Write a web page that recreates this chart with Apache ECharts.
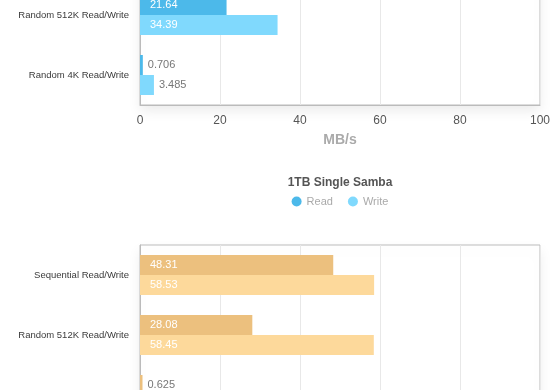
<!DOCTYPE html>
<html><head><meta charset="utf-8">
<script src="https://cdn.jsdelivr.net/npm/echarts@6/dist/echarts.min.js"></script>
<style>html,body{margin:0;padding:0;overflow:hidden;background:#fff;width:560px;height:390px}
#c{position:absolute;left:0;top:-100px;width:680px;height:720px}</style>
</head><body><div id="c"></div>
<script>
const categories = ['Sequential Read/Write', 'Random 512K Read/Write', 'Random 4K Read/Write'];
const topRead = [null, 21.64, 0.706];
const topWrite = [null, 34.39, 3.485];
const sambaRead = [48.31, 28.08, 0.625];
const sambaWrite = [58.53, 58.45, null];
const xTicks = [0, 20, 40, 60, 80, 100];
const chartTitle = '1TB Single Samba';
const axisName = 'MB/s';

const FONT = '"Liberation Sans", Helvetica, Arial, sans-serif';
const blueRead = '#4cb9ea', blueWrite = '#80d9fd';
const orangeRead = '#ecc07e', orangeWrite = '#fdd99b';

function mkData(vals) {
  return vals.map(v => v == null ? null : (v < 5 ? {
    value: v, label: {position: 'right', distance: 5, color: '#777'}
  } : v));
}
function mkX(gi) {
  return {
    type: 'value', gridIndex: gi, min: xTicks[0], max: xTicks[xTicks.length - 1], interval: xTicks[1] - xTicks[0],
    axisLine: {show: true, lineStyle: {color: '#bbb'}},
    axisTick: {show: false},
    splitLine: {lineStyle: {color: '#e8e8e8'}},
    axisLabel: {color: '#555', fontSize: 12, margin: 10, fontFamily: FONT},
    name: axisName, nameLocation: 'middle', nameGap: 28,
    nameTextStyle: {color: '#aaa', fontSize: 14, fontWeight: 'bold', fontFamily: FONT}
  };
}
function mkY(gi) {
  return {
    type: 'category', gridIndex: gi, inverse: true, data: categories,
    axisLine: {show: true, lineStyle: {color: '#bbb'}},
    axisTick: {show: false},
    axisLabel: {color: '#3a3a3a', fontSize: 9.5, margin: 11, fontFamily: FONT}
  };
}
function mkSeries(name, vals, color, gi) {
  return {
    type: 'bar', name: name, xAxisIndex: gi, yAxisIndex: gi,
    data: mkData(vals), barWidth: 20, barGap: '0%',
    itemStyle: {color: color},
    label: {show: true, position: 'insideLeft', distance: 10, color: '#fff', fontSize: 11, fontFamily: FONT},
    silent: true
  };
}
const gridBase = {left: 140, width: 400, height: 180, show: true, borderColor: '#bbb', borderWidth: 1,
  outerBoundsMode: 'none', containLabel: false,
  backgroundColor: '#fff', shadowColor: 'rgba(0,0,0,0.08)', shadowBlur: 12, shadowOffsetY: 6};

const chart = echarts.init(document.getElementById('c'));
chart.setOption({
  animation: false,
  textStyle: {fontFamily: FONT},
  title: {text: chartTitle, left: 'center', top: 272,
    textStyle: {color: '#555', fontSize: 12, fontWeight: 'bold', fontFamily: FONT}},
  legend: {
    top: 291, left: 'center', icon: 'circle', itemWidth: 10, itemHeight: 10, itemGap: 15,
    textStyle: {color: '#aaa', fontSize: 11, fontFamily: FONT},
    data: [{name: 'Read', itemStyle: {color: blueRead}}, {name: 'Write', itemStyle: {color: blueWrite}}]
  },
  grid: [Object.assign({top: 25}, gridBase), Object.assign({top: 345}, gridBase)],
  xAxis: [mkX(0), mkX(1)],
  yAxis: [mkY(0), mkY(1)],
  series: [
    mkSeries('Read', topRead, blueRead, 0),
    mkSeries('Write', topWrite, blueWrite, 0),
    mkSeries('Read', sambaRead, orangeRead, 1),
    mkSeries('Write', sambaWrite, orangeWrite, 1)
  ]
});
</script></body></html>
